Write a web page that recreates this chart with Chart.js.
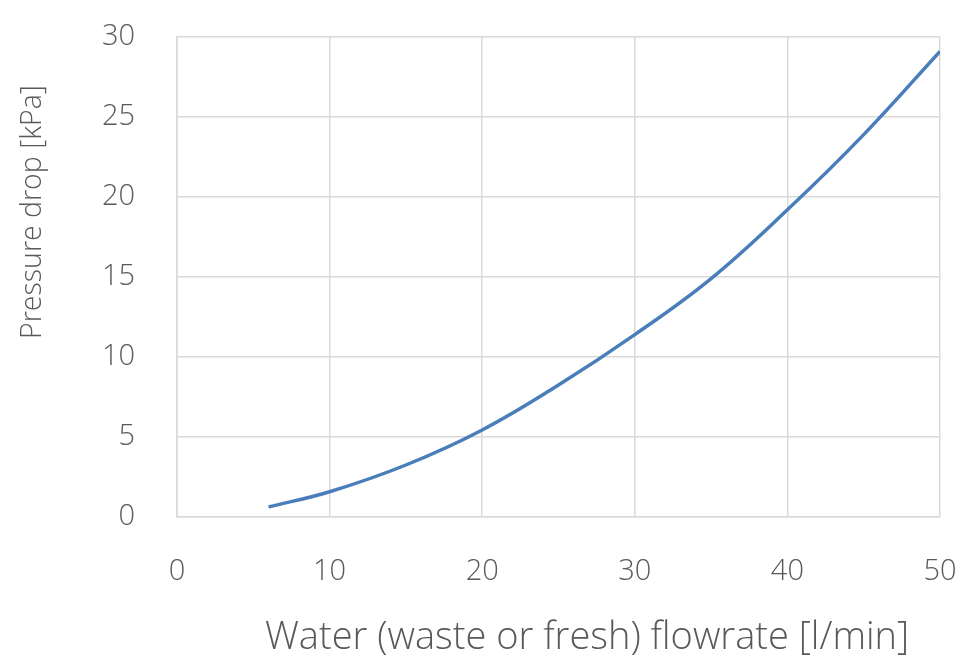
<!DOCTYPE html>
<html>
<head>
<meta charset="utf-8">
<script src="https://cdn.jsdelivr.net/npm/chart.js@4"></script>
<style>
  html, body { margin: 0; padding: 0; background: #fff; }
  #wrap { width: 967px; height: 658px; }
</style>
</head>
<body>
<div id="wrap"><canvas id="chart" width="967" height="658"></canvas></div>
<script>
// flowrate [l/min] vs pressure drop [kPa]
const flowrate = [6, 10, 15, 20, 25, 30, 35, 40, 45, 50];
const pressureDrop = [0.63, 1.58, 3.25, 5.44, 8.25, 11.4, 14.9, 19.2, 23.9, 29.1];

const xTitle = 'Water (waste or fresh) flowrate [l/min]';
const yTitle = 'Pressure drop [kPa]';

const textColor = '#595959';
const gridColor = '#d9d9d9';
const fontFamily = '"Open Sans", "DejaVu Sans", sans-serif';

// axis titles drawn by hand so they sit where Excel put them
const axisTitles = {
  id: 'axisTitles',
  afterDraw(chart) {
    const ctx = chart.ctx;
    ctx.save();
    ctx.fillStyle = textColor;
    ctx.textAlign = 'center';
    ctx.textBaseline = 'middle';
    ctx.font = '300 38px ' + fontFamily;
    ctx.fillText(xTitle, 587, 638);
    ctx.font = '300 28.5px ' + fontFamily;
    ctx.translate(33, 212);
    ctx.rotate(-Math.PI / 2);
    ctx.fillText(yTitle, 0, 0);
    ctx.restore();
  }
};

new Chart(document.getElementById('chart').getContext('2d'), {
  type: 'line',
  data: {
    datasets: [{
      data: flowrate.map((x, i) => ({ x: x, y: pressureDrop[i] })),
      borderColor: '#4a7ebb',
      borderWidth: 3.5,
      pointRadius: 0,
      tension: 0.4,
      fill: false
    }]
  },
  options: {
    responsive: false,
    animation: false,
    layout: { padding: { top: 37, right: 27, left: 0, bottom: 0 } },
    scales: {
      x: {
        type: 'linear',
        min: 0,
        max: 50,
        ticks: { stepSize: 10, padding: 37, color: textColor, font: { family: fontFamily, size: 29, weight: 300 } },
        grid: { color: gridColor, lineWidth: 1.5, drawTicks: false },
        border: { color: gridColor, width: 1.5 },
        afterFit: s => { s.height = 141; s.paddingLeft = 0; s.paddingRight = 0; }
      },
      y: {
        min: 0,
        max: 30,
        ticks: { stepSize: 5, padding: 42, color: textColor, font: { family: fontFamily, size: 29, weight: 300 } },
        grid: { color: gridColor, lineWidth: 1.5, drawTicks: false },
        border: { color: gridColor, width: 1.5 },
        afterFit: s => { s.width = 177; s.paddingTop = 0; s.paddingBottom = 0; }
      }
    },
    plugins: {
      legend: { display: false },
      tooltip: { enabled: false }
    }
  },
  plugins: [axisTitles]
});
</script>
</body>
</html>
